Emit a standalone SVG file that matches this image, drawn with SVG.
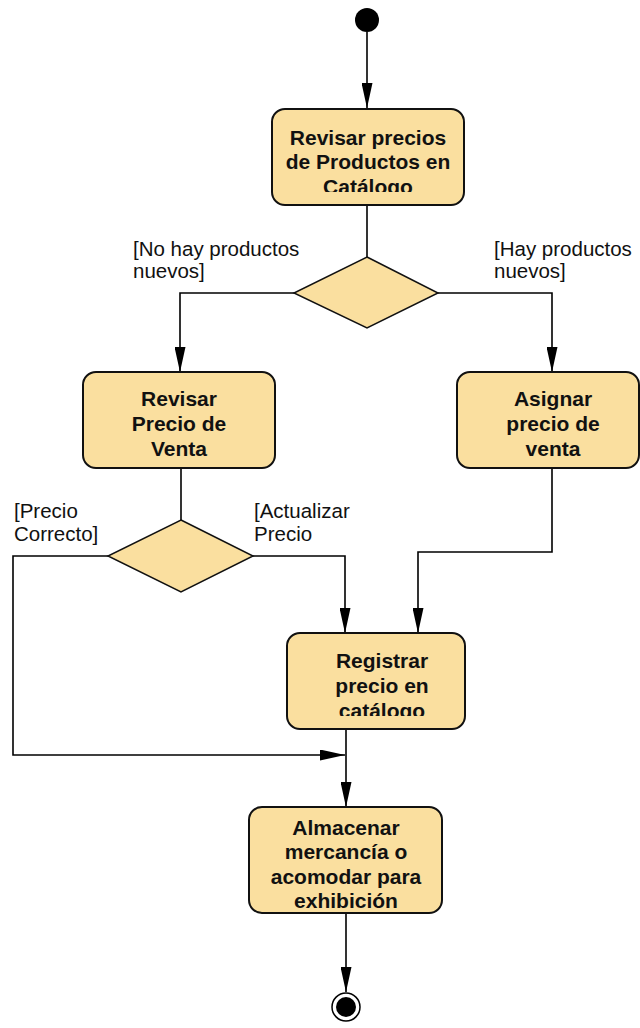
<svg xmlns="http://www.w3.org/2000/svg" width="640" height="1028" viewBox="0 0 640 1028">
  <style>
    .act { fill: #FADF9F; stroke: #111; stroke-width: 2; }
    .dec { fill: #FADF9F; stroke: #111; stroke-width: 1.5; }
    .lbl { font-family: "Liberation Sans", Arial, sans-serif; font-size: 21px; font-weight: bold; fill: #111; text-anchor: middle; }
    .grd { font-family: "Liberation Sans", Arial, sans-serif; font-size: 20.5px; fill: #111; }
    .edge { fill: none; stroke: #000; stroke-width: 1.6; }
  </style>
  <defs>
    <marker id="arr" viewBox="0 0 25 11" refX="25" refY="5.5" markerWidth="25" markerHeight="11" markerUnits="userSpaceOnUse" orient="auto">
      <path d="M0,0 L25,5.5 L0,11 Z" fill="#000"/>
    </marker>
    <clipPath id="c1"><rect x="272" y="109" width="192" height="83"/></clipPath>
    <clipPath id="c2"><rect x="83" y="372" width="192" height="84"/></clipPath>
    <clipPath id="c3"><rect x="457" y="372" width="182" height="84"/></clipPath>
    <clipPath id="c4"><rect x="287" y="633" width="178" height="83"/></clipPath>
  </defs>

  <!-- connectors -->
  <g id="edges">
    <path class="edge" d="M367,32 V108" marker-end="url(#arr)"/>
    <path class="edge" d="M367,205 V257"/>
    <path class="edge" d="M294,293 H180 V372" marker-end="url(#arr)"/>
    <path class="edge" d="M438,293 H552 V372" marker-end="url(#arr)"/>
    <path class="edge" d="M181,468 V520"/>
    <path class="edge" d="M108,556 H13 V755 H345" marker-end="url(#arr)"/>
    <path class="edge" d="M253,556 H345 V633" marker-end="url(#arr)"/>
    <path class="edge" d="M552,468 V552 H418 V633" marker-end="url(#arr)"/>
    <path class="edge" d="M346,729 V807" marker-end="url(#arr)"/>
    <path class="edge" d="M346,913 V992" marker-end="url(#arr)"/>
  </g>

  <g id="start">
    <circle cx="367" cy="20" r="12" fill="#000"/>
  </g>

  <g id="revisar-precios">
    <rect class="act" x="272" y="109" width="192" height="96" rx="13"/>
    <g clip-path="url(#c1)">
      <text class="lbl" x="368" y="145">Revisar precios</text>
      <text class="lbl" x="368" y="169">de Productos en</text>
      <text class="lbl" x="368" y="194">Catálogo</text>
    </g>
  </g>

  <g id="decision-productos">
    <polygon class="dec" points="367,257 438,293 367,328 294,293"/>
    <text class="grd" x="133" y="256">[No hay productos</text>
    <text class="grd" x="133" y="278">nuevos]</text>
    <text class="grd" x="494" y="256">[Hay productos</text>
    <text class="grd" x="494" y="278">nuevos]</text>
  </g>

  <g id="revisar-venta">
    <rect class="act" x="83" y="372" width="192" height="96" rx="13"/>
    <g clip-path="url(#c2)">
      <text class="lbl" x="179" y="406">Revisar</text>
      <text class="lbl" x="179" y="431">Precio de</text>
      <text class="lbl" x="179" y="456">Venta</text>
    </g>
  </g>

  <g id="asignar-venta">
    <rect class="act" x="457" y="372" width="182" height="96" rx="13"/>
    <g clip-path="url(#c3)">
      <text class="lbl" x="553" y="406">Asignar</text>
      <text class="lbl" x="553" y="431">precio de</text>
      <text class="lbl" x="553" y="456">venta</text>
    </g>
  </g>

  <g id="decision-precio">
    <polygon class="dec" points="181,520 253,556 181,592 108,556"/>
    <text class="grd" x="14" y="518">[Precio</text>
    <text class="grd" x="14" y="541">Correcto]</text>
    <text class="grd" x="254" y="518">[Actualizar</text>
    <text class="grd" x="254" y="541">Precio</text>
  </g>

  <g id="registrar">
    <rect class="act" x="287" y="633" width="178" height="96" rx="13"/>
    <g clip-path="url(#c4)">
      <text class="lbl" x="382" y="668">Registrar</text>
      <text class="lbl" x="382" y="693">precio en</text>
      <text class="lbl" x="382" y="718">catálogo</text>
    </g>
  </g>

  <g id="almacenar">
    <rect class="act" x="249" y="807" width="193" height="106" rx="13"/>
    <text class="lbl" x="346" y="835">Almacenar</text>
    <text class="lbl" x="346" y="859">mercancía o</text>
    <text class="lbl" x="346" y="884">acomodar para</text>
    <text class="lbl" x="346" y="908">exhibición</text>
  </g>

  <g id="end">
    <circle cx="346" cy="1007" r="14" fill="#fff" stroke="#000" stroke-width="1.5"/>
    <circle cx="346" cy="1007" r="10" fill="#000"/>
  </g>
</svg>
